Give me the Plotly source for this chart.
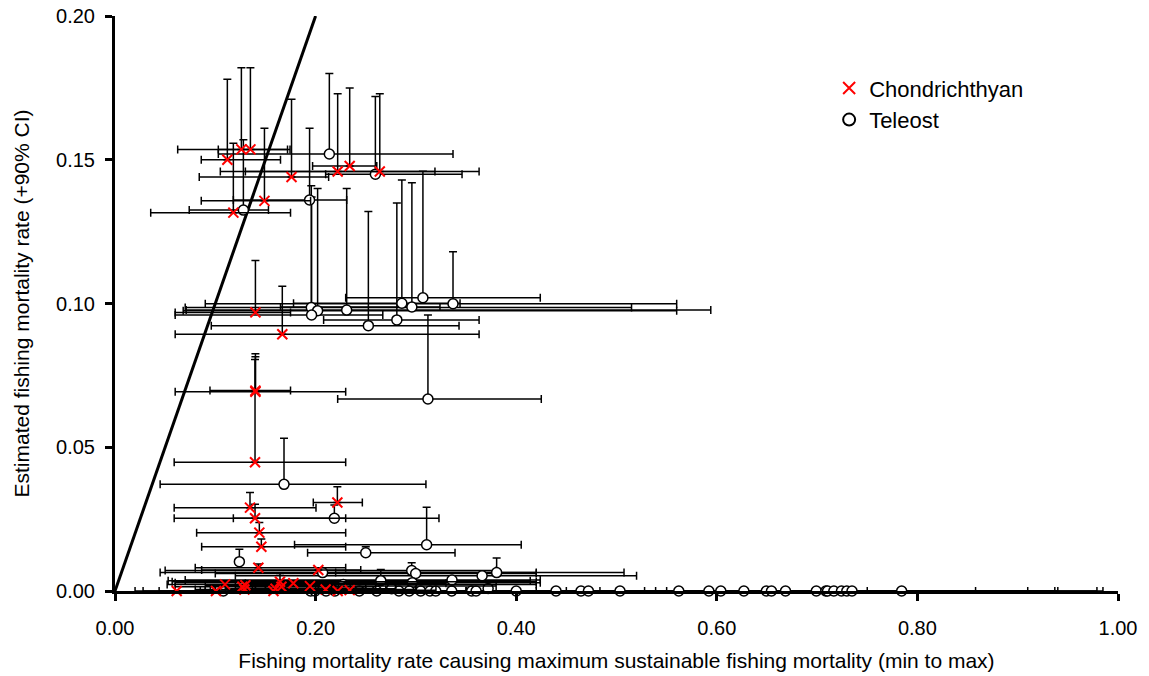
import numpy as np
import plotly.graph_objects as go

# ---------------- Data ----------------
# Chondrichthyan: point estimate, min/max of x range, upper 90% CI of y
chond_x = [0.112, 0.126, 0.135, 0.118, 0.149, 0.176, 0.222, 0.234, 0.264,
           0.140, 0.1668, 0.140, 0.140, 0.1396, 0.2217, 0.1346, 0.1396, 0.1439,
           0.1459, 0.1429, 0.2027, 0.0615, 0.1007, 0.1097, 0.127, 0.129, 0.130,
           0.158, 0.160, 0.1645, 0.166, 0.1778, 0.1944, 0.210, 0.222, 0.234]
chond_y = [0.1500, 0.1536, 0.1536, 0.1316, 0.1357, 0.1440, 0.1459, 0.1478, 0.1459,
           0.0969, 0.0893, 0.0693, 0.0697, 0.0448, 0.0308, 0.0290, 0.0253, 0.0203,
           0.0154, 0.0081, 0.0073, 0.0, 0.0, 0.0023, 0.0015, 0.0005, 0.0020,
           0.0, 0.0008, 0.0032, 0.0015, 0.0027, 0.0017, 0.0005, 0.0, 0.0003]
chond_xmin = [0.086, 0.0625, 0.103, 0.0356, 0.086, 0.084, 0.105, 0.197, 0.130,
              0.060, 0.060, 0.060, 0.0947, 0.059, 0.1977, 0.059, 0.059, 0.0814,
              0.0864, 0.080, 0.0864, 0.020, 0.028, 0.052, 0.060, 0.080, 0.090,
              0.100, 0.110, 0.057, 0.120, 0.130, 0.140, 0.150, 0.160, 0.170]
chond_xmax = [0.165, 0.1745, 0.172, 0.175, 0.195, 0.213, 0.319, 0.261, 0.363,
              0.175, 0.363, 0.230, 0.175, 0.230, 0.2466, 0.2004, 0.230, 0.230,
              0.230, 0.230, 0.245, 0.100, 0.200, 0.420, 0.250, 0.300, 0.220,
              0.300, 0.280, 0.420, 0.260, 0.330, 0.380, 0.270, 0.300, 0.320]
chond_yup = [0.178, 0.182, 0.182, 0.1557, 0.161, 0.171, 0.173, 0.175, 0.173,
             0.115, 0.106, 0.0825, 0.0815, 0.0805, 0.0363, 0.0343, 0.0302, 0.0238,
             0.0181, 0.0094, None, None, None, None, None, None, None,
             None, None, 0.0061, None, None, None, None, None, None]

# Teleost
tel_x = [0.2137, 0.128, 0.194, 0.2596, 0.1957, 0.202, 0.196, 0.231, 0.2526,
         0.281, 0.286, 0.296, 0.307, 0.337, 0.312, 0.1685, 0.2187, 0.3107,
         0.250, 0.124, 0.207, 0.2958, 0.2998, 0.3805, 0.366, 0.265, 0.2964,
         0.336, 0.2276, 0.230, 0.2758, 0.372,
         0.108, 0.195, 0.1994, 0.2104, 0.2193, 0.2436, 0.2609, 0.2831, 0.2934,
         0.3048, 0.314, 0.3198, 0.3357, 0.3556, 0.360, 0.400, 0.4397, 0.4646,
         0.472, 0.5035, 0.5621, 0.5921, 0.604, 0.627, 0.6494, 0.6545, 0.6685,
         0.6992, 0.7087, 0.7104, 0.7167, 0.7243, 0.7296, 0.7348, 0.7843]
tel_y = [0.1520, 0.1325, 0.1360, 0.1450, 0.0986, 0.0975, 0.0960, 0.0977, 0.0923,
         0.0943, 0.1001, 0.0988, 0.1020, 0.0999, 0.0668, 0.0371, 0.0253, 0.0161,
         0.0133, 0.0102, 0.0064, 0.0071, 0.0061, 0.0064, 0.0053, 0.0036, 0.0029,
         0.0038, 0.0023, 0.0012, 0.0008, 0.0009,
         0.0, 0.0, 0.0, 0.0, 0.0, 0.0, 0.0, 0.0, 0.0,
         0.0, 0.0, 0.0, 0.0, 0.0, 0.0, 0.0, 0.0, 0.0,
         0.0, 0.0, 0.0, 0.0, 0.0, 0.0, 0.0, 0.0, 0.0,
         0.0, 0.0, 0.0, 0.0, 0.0, 0.0, 0.0, 0.0]
tel_xmin = [0.103, 0.074, 0.118, 0.210, 0.070, 0.068, 0.060, 0.071, 0.096,
            0.208, 0.178, 0.165, 0.230, 0.090, 0.222, 0.045, 0.118, 0.179,
            0.192, None, 0.045, 0.050, 0.100, 0.220, 0.120, 0.053, 0.060,
            0.070, None, None, None, None,
            0.044, 0.085, 0.090, 0.095, 0.100, 0.137, 0.140, 0.150, 0.158,
            0.170, 0.200, 0.220, 0.230, 0.240, 0.250, 0.260, 0.280, 0.300,
            0.320, 0.350, 0.400, None, None, None, None, None, None,
            None, None, None, None, None, None, None, None]
tel_xmax = [0.337, 0.153, 0.231, 0.346, 0.515, 0.560, 0.267, 0.594, 0.343,
            0.363, 0.344, 0.324, 0.424, 0.560, 0.425, 0.310, 0.323, 0.405,
            0.339, None, 0.420, 0.380, 0.420, 0.5075, 0.520, 0.414, 0.424,
            0.424, None, None, None, None,
            0.160, 0.420, 0.4835, 0.528, 0.300, 0.539, 0.350, 0.651, 0.450,
            0.400, 0.858, 0.500, 0.910, 0.550, 0.607, 0.937, 0.940, 0.700,
            0.750, 0.979, 0.985, None, None, None, None, None, None,
            None, None, None, None, None, None, None, None]
tel_yup = [0.180, 0.157, 0.161, 0.172, 0.141, 0.140, 0.137, 0.140, 0.132,
           0.135, 0.143, 0.142, 0.146, 0.118, 0.096, 0.0531, 0.0299, 0.0291,
           0.0154, 0.0145, None, 0.0098, None, 0.0115, None, 0.0075, None,
           None, None, None, None, None] + [None] * 35

# Reference line F = Fmsm
line_x = [0.0, 0.2]
line_y = [0.0, 0.2]

x_ticks = [0.0, 0.2, 0.4, 0.6, 0.8, 1.0]
y_ticks = [0.0, 0.05, 0.10, 0.15, 0.20]


def fill(vals, base):
    return np.array([b if v is None else v for v, b in zip(vals, base)], float)


def errs(x, y, xmin, xmax, yup):
    x = np.array(x, float)
    y = np.array(y, float)
    lo = fill(xmin, x)
    hi = fill(xmax, x)
    up = fill(yup, y)
    return x, y, hi - x, x - lo, up - y


fig = go.Figure()

fig.add_trace(go.Scatter(x=line_x, y=line_y, mode="lines",
                         line=dict(color="black", width=3), showlegend=False,
                         hoverinfo="skip"))

tx, ty, tplus, tminus, tup = errs(tel_x, tel_y, tel_xmin, tel_xmax, tel_yup)
fig.add_trace(go.Scatter(
    x=tx, y=ty, mode="markers", name="Teleost", cliponaxis=False,
    marker=dict(symbol="circle", size=10, color="white",
                line=dict(color="black", width=1.5)),
    error_x=dict(type="data", symmetric=False, array=tplus, arrayminus=tminus,
                 color="black", thickness=1.5, width=4),
    error_y=dict(type="data", symmetric=False, array=tup,
                 arrayminus=np.zeros_like(tup), color="black",
                 thickness=1.5, width=4),
))

cx, cy, cplus, cminus, cup = errs(chond_x, chond_y, chond_xmin, chond_xmax, chond_yup)
fig.add_trace(go.Scatter(
    x=cx, y=cy, mode="markers", name="Chondrichthyan", cliponaxis=False,
    marker=dict(symbol="x-thin", size=10, color="red",
                line=dict(color="red", width=2)),
    error_x=dict(type="data", symmetric=False, array=cplus, arrayminus=cminus,
                 color="black", thickness=1.5, width=4),
    error_y=dict(type="data", symmetric=False, array=cup,
                 arrayminus=np.zeros_like(cup), color="black",
                 thickness=1.5, width=4),
))

axis_common = dict(showgrid=False, zeroline=False, showline=True,
                   linecolor="black", linewidth=3, ticks="outside",
                   ticklen=7, tickwidth=3, tickcolor="black", automargin=False,
                   tickfont=dict(size=20, color="black"))

fig.update_layout(
    width=1149, height=676,
    margin=dict(l=115, r=31, t=16, b=85),
    paper_bgcolor="white", plot_bgcolor="white",
    font=dict(family="Liberation Sans, Arial, sans-serif", size=20, color="black"),
    xaxis=dict(range=[0, 1], tickvals=x_ticks, tickformat=".2f",
               title=dict(text="Fishing mortality rate causing maximum sustainable fishing mortality (min to max)",
                          font=dict(size=21), standoff=16),
               ticklabelstandoff=10, **axis_common),
    yaxis=dict(range=[0, 0.2], tickvals=y_ticks, tickformat=".2f",
               title=dict(text="Estimated fishing mortality rate (+90% CI)",
                          font=dict(size=21), standoff=21),
               ticklabelstandoff=6, **axis_common),
    legend=dict(x=0.712, y=0.911, xanchor="left", yanchor="top",
                traceorder="reversed", bgcolor="rgba(0,0,0,0)",
                font=dict(size=22), itemsizing="constant"),
    showlegend=True,
)

fig.write_html("out.html")
